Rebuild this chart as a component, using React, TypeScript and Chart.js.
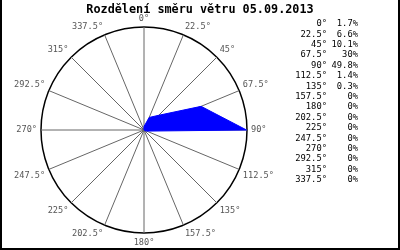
import React, { useEffect, useRef } from "react";
import { Chart, registerables } from "chart.js";

Chart.register(...registerables);

const TITLE = "Rozdělení směru větru 05.09.2013";
const directions = [
  "0°", "22.5°", "45°", "67.5°", "90°", "112.5°", "135°", "157.5°",
  "180°", "202.5°", "225°", "247.5°", "270°", "292.5°", "315°", "337.5°",
];
const percents = [1.7, 6.6, 10.1, 30, 49.8, 1.4, 0.3, 0, 0, 0, 0, 0, 0, 0, 0, 0];
const scaleMax = 50;

const decorPlugin = {
  id: "decor",
  afterDraw(chart: any) {
    const ctx = chart.ctx as CanvasRenderingContext2D;
    const scale = chart.scales.r;
    ctx.save();
    // frame (left, right, bottom)
    ctx.fillStyle = "#000";
    ctx.fillRect(0, 0, 2, 250);
    ctx.fillRect(398, 0, 2, 250);
    ctx.fillRect(0, 248, 400, 2);
    // title
    ctx.font = "bold 11.8px 'DejaVu Sans Mono'";
    ctx.textAlign = "center";
    ctx.textBaseline = "middle";
    ctx.fillStyle = "#000";
    ctx.fillText(TITLE, 200, 10);
    // point labels
    ctx.font = "8.6px 'DejaVu Sans Mono'";
    ctx.fillStyle = "#555";
    const n = directions.length;
    for (let i = 0; i < n; i++) {
      const p = scale.getPointPosition(i, scale.drawingArea + 4);
      const deg = (i * 360) / n;
      ctx.textAlign = deg === 0 || deg === 180 ? "center" : deg < 180 ? "left" : "right";
      ctx.textBaseline =
        deg === 90 || deg === 270 ? "middle" : deg > 90 && deg < 270 ? "top" : "bottom";
      ctx.fillText(directions[i], p.x, p.y + (ctx.textBaseline === "top" ? 1 : 0));
    }
    // table
    ctx.font = "8.8px 'DejaVu Sans Mono'";
    ctx.fillStyle = "#000";
    ctx.textBaseline = "middle";
    for (let i = 0; i < n; i++) {
      const y = 24 + i * 10.4;
      ctx.textAlign = "right";
      ctx.fillText(directions[i], 327, y);
      ctx.fillText(String(percents[i]) + "%", 358, y);
    }
    ctx.restore();
  },
};

export default function App() {
  const ref = useRef<HTMLCanvasElement>(null);
  useEffect(() => {
    document.body.style.margin = "0";
    const chart = new Chart(ref.current!, {
      type: "radar",
      data: {
        labels: directions,
        datasets: [
          {
            data: percents,
            backgroundColor: "#0000ff",
            borderColor: "#0000ff",
            borderWidth: 1,
            fill: true,
            pointRadius: 0,
            tension: 0,
          },
        ],
      },
      options: {
        responsive: false,
        animation: false,
        layout: { padding: { left: 41, right: 153, top: 27, bottom: 17 } },
        plugins: { legend: { display: false }, title: { display: false }, tooltip: { enabled: false } },
        scales: {
          r: {
            min: 0,
            max: scaleMax,
            ticks: { display: false, stepSize: scaleMax },
            grid: { circular: true, color: "#000", lineWidth: 1.5 },
            angleLines: { display: true, color: "#666", lineWidth: 1 },
            pointLabels: { display: false },
          },
        },
      },
      plugins: [decorPlugin],
    });
    return () => chart.destroy();
  }, []);
  return <canvas ref={ref} width={400} height={250} style={{ display: "block" }} />;
}
